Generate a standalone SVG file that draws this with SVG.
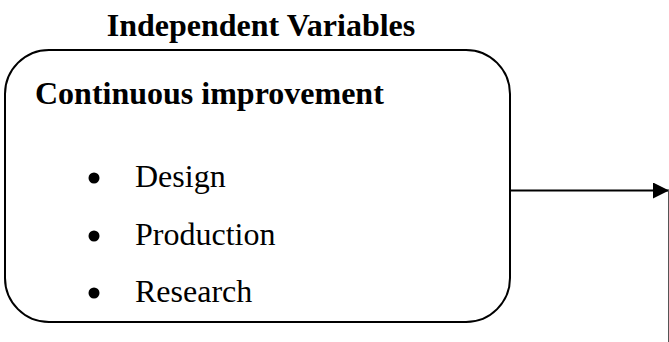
<svg xmlns="http://www.w3.org/2000/svg" width="669" height="342" viewBox="0 0 669 342">
<defs>
<style>
.b{font-family:"Liberation Serif","Times New Roman",serif;font-weight:bold;font-size:32px;fill:#000}
.r{font-family:"Liberation Serif","Times New Roman",serif;font-size:32px;fill:#000}
.box{fill:#fff;stroke:#000;stroke-width:2}
</style>
<marker id="ah" markerWidth="16" markerHeight="16" refX="16" refY="8" orient="auto" markerUnits="userSpaceOnUse">
<path d="M0,0 L16,8 L0,16 Z" fill="#000"/>
</marker>
</defs>
<rect width="669" height="342" fill="#fff"/>
<text class="b" x="261" y="36" text-anchor="middle">Independent Variables</text>
<g id="node-iv">
<rect class="box" x="5" y="50" width="505" height="272" rx="44" ry="44"/>
<text class="b" x="35" y="104">Continuous improvement</text>
<circle cx="94" cy="178" r="5.5"/>
<text class="r" x="135" y="187">Design</text>
<circle cx="94" cy="236" r="5.5"/>
<text class="r" x="135" y="245">Production</text>
<circle cx="94" cy="293" r="5.5"/>
<text class="r" x="135" y="302">Research</text>
</g>
<g id="connectors">
<line x1="510" y1="190.5" x2="669" y2="190.5" stroke="#000" stroke-width="2" marker-end="url(#ah)"/>
<line x1="668.5" y1="190" x2="668.5" y2="342" stroke="#555" stroke-width="1"/>
</g>
</svg>
